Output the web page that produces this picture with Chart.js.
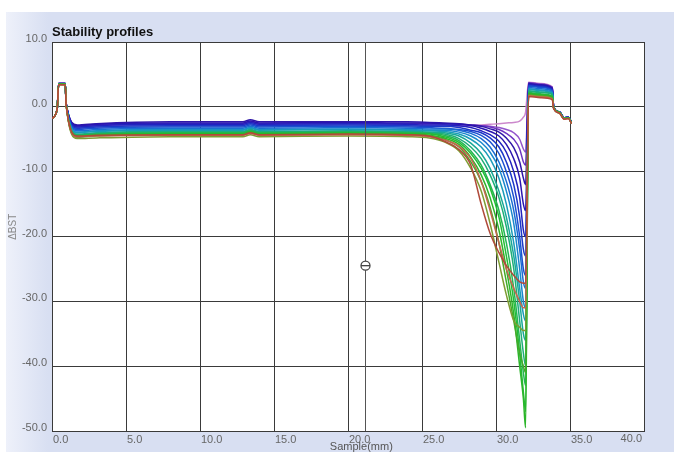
<!DOCTYPE html>
<html>
<head>
<meta charset="utf-8">
<script src="https://cdn.jsdelivr.net/npm/chart.js@4.4.1/dist/chart.umd.min.js"></script>
<style>
  html, body { margin: 0; padding: 0; background: #fff; }
  #wrap { width: 674px; height: 452px; }
</style>
</head>
<body>
<div id="wrap"><canvas id="profiles" width="674" height="452"></canvas></div>
<script>
// Stability profiles (Turbiscan style) - sample height vs delta signal

const sampleMm = [0, 0.35, 0.45, 0.9, 0.95, 1.7, 3, 8, 12.9, 13.4, 14, 20, 24,
  25.5, 26.5, 27.5, 28.3, 29, 29.6, 30.2, 30.7, 31.2, 31.6, 31.85, 32.0,
  32.2, 33, 33.8, 33.9, 34.3, 34.6, 34.9, 35.1];

const xTicks = [0, 5, 10, 15, 20, 25, 30, 35, 40];
const yTicks = [10, 0, -10, -20, -30, -40, -50];

// one array per scan, oldest scan first
const scan01 = [-1.8, -0.3, 3.4, 3.4, 0.4, -4.5, -4.4, -4.3, -4.3, -4.0, -4.3, -4.2, -4.3,
  -4.5, -5.3, -6.6, -9, -15, -19.5, -22.5, -24.5, -26, -27, -27.2, -27.2,
  1.6, 1.4, 1.1, -0.3, -1.0, -1.9, -1.8, -2.6];
const scan02 = [-1.8, -0.3, 3.4, 3.4, 0.4, -4.6, -4.5, -4.4, -4.4, -4.1, -4.4, -4.3, -4.4,
  -4.6, -5.1, -6.1, -8.0, -11.5, -16, -21, -25, -28, -30, -31, -31,
  1.7, 1.5, 1.2, -0.3, -1.0, -1.9, -1.8, -2.6];
const scan03 = [-1.8, -0.3, 3.4, 3.4, 0.4, -4.9, -4.8, -4.6, -4.6, -4.3, -4.6, -4.5, -4.6,
  -4.8, -5.4, -6.8, -9.5, -13, -18, -24, -29, -33, -34, -34.5, -34.5,
  1.8, 1.6, 1.3, -0.3, -1.0, -1.9, -1.8, -2.6];
const scan04 = [-1.8, -0.3, 3.5, 3.5, 0.5, -4.7, -4.5, -4.3, -4.3, -4.0, -4.3, -4.2, -4.3,
  -4.5, -5.0, -6.2, -8.5, -11.5, -15.5, -21, -27, -33, -38, -40, -41,
  1.9, 1.7, 1.4, -0.2, -0.9, -1.8, -1.7, -2.5];
const scan05 = [-1.8, -0.3, 3.5, 3.5, 0.5, -4.6, -4.4, -4.2, -4.2, -3.9, -4.2, -4.1, -4.2,
  -4.4, -4.8, -5.8, -7.8, -10.5, -14, -19, -25, -32, -40, -45, -49.5,
  2.0, 1.8, 1.5, -0.2, -0.9, -1.8, -1.7, -2.5];
const scan06 = [-1.8, -0.3, 3.5, 3.5, 0.5, -4.5, -4.3, -4.1, -4.1, -3.8, -4.1, -4.0, -4.1,
  -4.2, -4.6, -5.5, -7.2, -9.5, -12.5, -17, -23, -30, -38, -44, -47,
  2.1, 1.9, 1.6, -0.2, -0.9, -1.8, -1.7, -2.5];
const scan07 = [-1.8, -0.3, 3.5, 3.5, 0.5, -4.4, -4.2, -4.0, -4.0, -3.7, -4.0, -3.9, -4.0,
  -4.1, -4.4, -5.2, -6.8, -9, -12, -16, -21, -28, -36, -41, -43,
  2.2, 2.0, 1.7, -0.2, -0.9, -1.8, -1.7, -2.5];
const scan08 = [-1.8, -0.3, 3.5, 3.5, 0.5, -4.3, -4.1, -3.9, -3.9, -3.6, -3.9, -3.8, -3.9,
  -4.0, -4.2, -4.9, -6.2, -8, -10.5, -14, -18.5, -25, -33, -38, -40,
  2.4, 2.2, 1.9, -0.2, -0.9, -1.8, -1.7, -2.5];
const scan09 = [-1.8, -0.3, 3.5, 3.5, 0.5, -4.2, -4.0, -3.8, -3.8, -3.5, -3.8, -3.7, -3.8,
  -3.9, -4.0, -4.5, -5.6, -7.2, -9.5, -13, -17, -23, -30, -35, -36,
  2.5, 2.3, 2.0, -0.2, -0.9, -1.8, -1.7, -2.5];
const scan10 = [-1.8, -0.3, 3.5, 3.5, 0.5, -4.0, -3.8, -3.6, -3.6, -3.3, -3.6, -3.5, -3.6,
  -3.7, -3.8, -4.2, -5.0, -6.2, -8, -11, -15, -21, -28, -32, -33,
  2.7, 2.5, 2.1, -0.2, -0.9, -1.8, -1.7, -2.5];
const scan11 = [-1.8, -0.3, 3.5, 3.5, 0.5, -3.9, -3.7, -3.5, -3.5, -3.2, -3.5, -3.4, -3.5,
  -3.6, -3.6, -3.9, -4.5, -5.5, -7, -9.5, -13, -18, -25, -30, -31,
  2.8, 2.6, 2.2, -0.2, -0.9, -1.8, -1.7, -2.5];
const scan12 = [-1.8, -0.3, 3.5, 3.5, 0.5, -3.7, -3.5, -3.3, -3.3, -3.0, -3.3, -3.2, -3.3,
  -3.4, -3.4, -3.6, -4.1, -4.9, -6.2, -8.5, -11.5, -16, -22, -27, -28,
  3.0, 2.8, 2.4, -0.2, -0.9, -1.8, -1.7, -2.5];
const scan13 = [-1.8, -0.3, 3.5, 3.5, 0.5, -3.5, -3.3, -3.1, -3.1, -2.8, -3.1, -3.0, -3.1,
  -3.2, -3.3, -3.5, -3.8, -4.4, -5.4, -7.2, -10, -14, -20, -25, -26,
  3.2, 3.0, 2.5, -0.1, -0.8, -1.7, -1.6, -2.4];
const scan14 = [-1.8, -0.3, 3.5, 3.5, 0.5, -3.3, -3.1, -2.9, -2.9, -2.6, -2.9, -2.8, -2.9,
  -3.0, -3.0, -3.2, -3.6, -4.0, -4.8, -6.2, -8.5, -12, -17, -22, -23,
  3.3, 3.1, 2.6, -0.1, -0.8, -1.7, -1.6, -2.4];
const scan15 = [-1.8, -0.3, 3.6, 3.6, 0.6, -3.1, -2.9, -2.7, -2.7, -2.4, -2.7, -2.6, -2.7,
  -2.8, -2.8, -2.9, -3.2, -3.7, -4.3, -5.3, -7, -10, -14, -19, -20,
  3.4, 3.2, 2.7, -0.1, -0.8, -1.7, -1.6, -2.4];
const scan16 = [-1.8, -0.3, 3.6, 3.6, 0.6, -2.9, -2.7, -2.5, -2.5, -2.2, -2.5, -2.4, -2.5,
  -2.5, -2.6, -2.7, -2.9, -3.3, -3.8, -4.5, -5.8, -8, -11, -15, -16,
  3.5, 3.3, 2.8, -0.1, -0.8, -1.7, -1.6, -2.4];
const scan17 = [-1.8, -0.3, 3.6, 3.6, 0.6, -2.8, -2.6, -2.3, -2.3, -2.0, -2.3, -2.3, -2.3,
  -2.4, -2.5, -2.6, -2.8, -3.0, -3.4, -3.9, -4.8, -6.3, -8.5, -11, -12,
  3.6, 3.4, 2.9, -0.1, -0.8, -1.7, -1.6, -2.4];
const scan18 = [-1.8, -0.3, 3.6, 3.6, 0.6, -3.0, -2.8, -2.6, -2.6, -2.3, -2.6, -2.5, -2.6,
  -2.6, -2.6, -2.7, -2.8, -2.9, -3.1, -3.5, -4.1, -5, -6.5, -8.5, -9,
  3.7, 3.5, 3.0, -0.1, -0.8, -1.7, -1.6, -2.4];
const scan19 = [-1.8, -0.3, 3.6, 3.6, 0.6, -3.2, -3.0, -2.8, -2.8, -2.5, -2.8, -2.7, -2.8,
  -2.8, -2.8, -2.8, -2.8, -2.9, -3.0, -3.2, -3.5, -4.0, -5.0, -6.5, -7,
  3.7, 3.5, 3.0, -0.1, -0.8, -1.7, -1.6, -2.4];
const scan20 = [-1.8, -0.3, 3.6, 3.6, 0.6, -3.4, -3.2, -3.0, -3.0, -2.7, -3.0, -2.9, -3.0,
  -3.0, -3.0, -3.0, -2.9, -2.8, -2.7, -2.6, -2.5, -2.4, -2.2, -1.6, -0.8,
  3.8, 3.6, 3.1, -0.1, -0.8, -1.7, -1.6, -2.4];

const scans = [scan01, scan02, scan03, scan04, scan05, scan06, scan07, scan08, scan09, scan10,
  scan11, scan12, scan13, scan14, scan15, scan16, scan17, scan18, scan19, scan20];
const scanColors = ['#b04a3a', '#c4664e', '#7e9c32', '#44aa2a', '#2cb52a', '#22bd36', '#26b455',
  '#1eae78', '#18a896', '#1a9cb8', '#1a88cc', '#1a6cd2', '#1a50d0', '#1c38c8', '#2222be',
  '#2a14b0', '#3018a8', '#6c34c2', '#9456cc', '#cc88cc'];

// cursor marker position
const cursorX = 21.15;
const cursorY = -24.5;

const FONT = "'Liberation Sans', Arial, sans-serif";

const backdrop = {
  id: 'backdrop',
  beforeDraw(chart) {
    const { ctx, chartArea: a, width, height } = chart;
    ctx.save();
    ctx.fillStyle = '#ffffff';
    ctx.fillRect(0, 0, width, height);
    const g = ctx.createLinearGradient(6, 0, 48, 0);
    g.addColorStop(0, '#eef1fa');
    g.addColorStop(1, '#d8dff2');
    ctx.fillStyle = g;
    ctx.fillRect(6, 12, width - 6, height - 12);
    ctx.fillStyle = '#ffffff';
    ctx.fillRect(a.left, a.top, a.right - a.left, a.bottom - a.top);
    ctx.restore();
  },
  afterDraw(chart) {
    const { ctx, chartArea: a, scales: { x, y } } = chart;
    ctx.save();
    // title
    ctx.fillStyle = '#111';
    ctx.font = 'bold 13px ' + FONT;
    ctx.textAlign = 'left';
    ctx.textBaseline = 'alphabetic';
    ctx.fillText('Stability profiles', a.left, a.top - 6);
    // x axis title
    ctx.fillStyle = '#555';
    ctx.font = '11px ' + FONT;
    ctx.textAlign = 'center';
    ctx.fillText('Sample(mm)', x.getPixelForValue(20.9), a.bottom + 19);
    // last x tick, right aligned at the edge
    ctx.textAlign = 'right';
    ctx.fillStyle = '#666';
    ctx.fillText(xTicks[xTicks.length - 1].toFixed(1), a.right - 2, a.bottom + 11);
    // y axis title
    ctx.save();
    ctx.translate(16, y.getPixelForValue(-18.5));
    ctx.rotate(-Math.PI / 2);
    ctx.textAlign = 'center';
    ctx.font = '10px ' + FONT;
    ctx.fillStyle = '#888';
    ctx.fillText('ΔBST', 0, 0);
    ctx.restore();
    // cursor line and marker
    const cx = Math.round(x.getPixelForValue(cursorX)) + 0.5;
    const cy = y.getPixelForValue(cursorY);
    ctx.strokeStyle = '#555';
    ctx.lineWidth = 1;
    ctx.beginPath();
    ctx.moveTo(cx, a.top);
    ctx.lineTo(cx, a.bottom);
    ctx.stroke();
    ctx.fillStyle = '#fff';
    ctx.beginPath();
    ctx.arc(cx, cy, 4.5, 0, Math.PI * 2);
    ctx.fill();
    ctx.lineWidth = 1.3;
    ctx.strokeStyle = '#444';
    ctx.stroke();
    ctx.beginPath();
    ctx.moveTo(cx - 4.5, cy);
    ctx.lineTo(cx + 4.5, cy);
    ctx.stroke();
    ctx.restore();
  }
};

const datasets = scans.map((vals, i) => ({
  label: 'scan ' + (i + 1),
  data: sampleMm.map((mm, j) => ({ x: mm, y: vals[j] })),
  borderColor: scanColors[i],
  borderWidth: 1.5,
  pointRadius: 0,
  cubicInterpolationMode: 'monotone',
  fill: false,
}));

new Chart(document.getElementById('profiles'), {
  type: 'line',
  data: { datasets },
  plugins: [backdrop],
  options: {
    responsive: false,
    animation: false,
    events: [],
    layout: { padding: { left: 0, right: 30, top: 42, bottom: 0 } },
    scales: {
      x: {
        type: 'linear',
        min: 0,
        max: 40,
        afterFit: (s) => { s.height = 21; },
        afterBuildTicks: (s) => { s.ticks = xTicks.map(v => ({ value: v })); },
        grid: { color: '#3a3a3a', lineWidth: 1, drawTicks: false },
        border: { color: '#3a3a3a' },
        ticks: {
          align: 'start',
          padding: 2,
          labelOffset: 1,
          color: '#666',
          font: { family: FONT, size: 11 },
          callback: (v) => v === 40 ? '' : v.toFixed(1),
        },
      },
      y: {
        type: 'linear',
        min: -50,
        max: 10,
        afterFit: (s) => { s.width = 52; },
        afterBuildTicks: (s) => { s.ticks = yTicks.map(v => ({ value: v })); },
        grid: { color: '#3a3a3a', lineWidth: 1, drawTicks: false },
        border: { color: '#3a3a3a' },
        ticks: {
          padding: 5,
          labelOffset: -3,
          color: '#666',
          font: { family: FONT, size: 11 },
          callback: (v) => v.toFixed(1),
        },
      },
    },
    plugins: {
      legend: { display: false },
      tooltip: { enabled: false },
      title: { display: false },
    },
  },
});
</script>
</body>
</html>
